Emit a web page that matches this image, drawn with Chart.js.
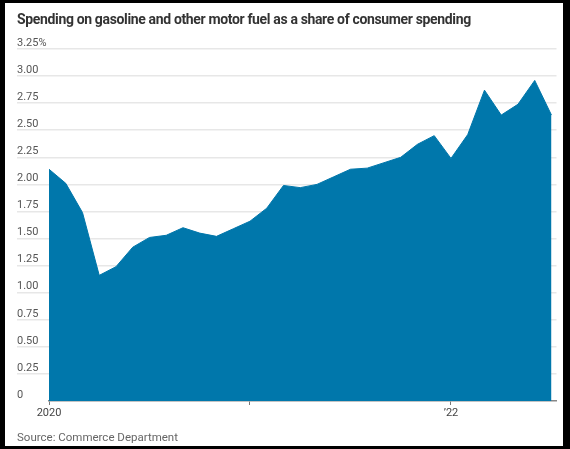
<!DOCTYPE html>
<html>
<head>
<meta charset="utf-8">
<script src="https://cdn.jsdelivr.net/npm/chart.js@4/dist/chart.umd.min.js"></script>
<style>
  body { margin: 0; background: #000; }
  #frame {
    position: absolute; left: 5px; top: 3px; width: 558px; height: 443px;
    background: #fff; overflow: hidden;
  }
  #title {
    position: absolute; left: 12px; top: 8px;
    font: bold 14px Roboto, sans-serif; color: #333; letter-spacing: -0.35px;
    white-space: nowrap;
  }
  #source {
    position: absolute; left: 12px; top: 427px;
    font: 11.5px Roboto, sans-serif; color: #666; white-space: nowrap;
  }
  #wrap { position: absolute; left: 0; top: 0; width: 558px; height: 443px; }
</style>
</head>
<body>
<div id="frame">
  <div id="wrap"><canvas id="chart"></canvas></div>
  <div id="title">Spending on gasoline and other motor fuel as a share of consumer spending</div>
  <div id="source">Source: Commerce Department</div>
</div>
<script>
// monthly, Jan 2020 - Jul 2022
const months = [
    '2020-01', '2020-02', '2020-03', '2020-04', '2020-05', '2020-06',
    '2020-07', '2020-08', '2020-09', '2020-10', '2020-11', '2020-12',
    '2021-01', '2021-02', '2021-03', '2021-04', '2021-05', '2021-06',
    '2021-07', '2021-08', '2021-09', '2021-10', '2021-11', '2021-12',
    '2022-01', '2022-02', '2022-03', '2022-04', '2022-05', '2022-06',
    '2022-07'
];
const share = [
    2.14, 2.01, 1.74, 1.16, 1.24, 1.42, 1.51, 1.53, 1.60, 1.55, 1.52, 1.59,
    1.66, 1.78, 1.99, 1.97, 2.00, 2.07, 2.14, 2.15, 2.20, 2.25, 2.37, 2.45,
    2.24, 2.46, 2.87, 2.64, 2.74, 2.96, 2.64
];
const xTickMonths = ['2020-01', '2021-01', '2022-01'];
const xTickLabels = ['2020', '', '\u201922'];
const yTicks = [0, 0.25, 0.5, 0.75, 1, 1.25, 1.5, 1.75, 2, 2.25, 2.5, 2.75, 3, 3.25];

const points = share.map((v, i) => ({ x: i, y: v }));
const xTickPos = xTickMonths.map((m) => months.indexOf(m));

const chart = new Chart(document.getElementById('chart'), {
    type: 'line',
    data: {
        datasets: [{
            label: 'Share',
            data: points,
            fill: 'origin',
            backgroundColor: '#0077ab',
            borderColor: '#0077ab',
            borderWidth: 1,
            pointRadius: 0,
            tension: 0
        }]
    },
    options: {
        responsive: true,
        maintainAspectRatio: false,
        animation: false,
        layout: { padding: { left: 12, top: 46, right: 6.5, bottom: 15 } },
        plugins: { legend: { display: false }, tooltip: { enabled: false } },
        scales: {
            x: {
                type: 'linear',
                min: 0,
                max: months.length - 1 + 0.3,
                z: 1,
                afterBuildTicks: (scale) => {
                    scale.ticks = xTickPos.map((v) => ({ value: v }));
                },
                afterFit: (scale) => { scale.height = 30; },
                ticks: {
                    autoSkip: false,
                    maxRotation: 0,
                    padding: 2,
                    color: '#444',
                    font: { family: 'Roboto', size: 11 },
                    callback: (v) => xTickLabels[xTickPos.indexOf(v)]
                },
                grid: {
                    drawOnChartArea: false,
                    tickLength: 4,
                    color: '#777'
                },
                border: { display: true, color: '#888', width: 1.5 }
            },
            y: {
                min: 0,
                max: 3.25,
                z: 1,
                afterBuildTicks: (scale) => {
                    scale.ticks = yTicks.map((v) => ({ value: v }));
                },
                afterFit: (scale) => { scale.width = 32; },
                ticks: {
                    crossAlign: 'far',
                    labelOffset: -6,
                    padding: 0,
                    color: '#555',
                    font: { family: 'Roboto', size: 11 },
                    callback: (v) => v === 0 ? '0' : (v === 3.25 ? '3.25%' : v.toFixed(2))
                },
                grid: {
                    tickLength: 32,
                    color: (ctx) => ctx.tick && ctx.tick.value === 0 ? 'rgba(0,0,0,0)' : 'rgba(215,215,215,0.6)',
                    lineWidth: 1.5
                },
                border: { display: false }
            }
        }
    }
});
</script>
</body>
</html>
